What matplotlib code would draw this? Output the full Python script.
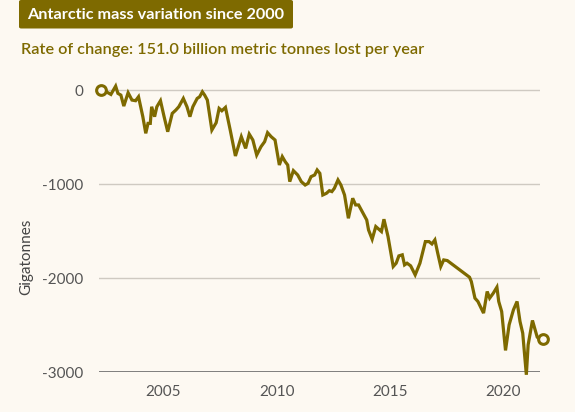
import matplotlib
matplotlib.use("Agg")
import matplotlib.pyplot as plt
from matplotlib.patches import FancyBboxPatch

# Antarctic mass change (Gt)
years = [
    2002.23, 2002.35, 2002.68, 2002.89, 2002.99, 2003.12, 2003.25, 2003.44, 2003.61, 2003.77,
    2003.90, 2004.09, 2004.22, 2004.32, 2004.42, 2004.48, 2004.61, 2004.71, 2004.87, 2005.03,
    2005.19, 2005.39, 2005.55, 2005.68, 2005.88, 2006.04, 2006.17, 2006.30, 2006.49, 2006.60,
    2006.72, 2006.82, 2006.94, 2007.14, 2007.33, 2007.46, 2007.58, 2007.74, 2007.95, 2008.18,
    2008.44, 2008.63, 2008.79, 2008.95, 2009.12, 2009.31, 2009.47, 2009.60, 2009.76, 2009.93,
    2010.12, 2010.25, 2010.38, 2010.49, 2010.58, 2010.74, 2010.93, 2011.09, 2011.26, 2011.39,
    2011.52, 2011.68, 2011.79, 2011.91, 2012.04, 2012.20, 2012.33, 2012.44, 2012.55, 2012.71,
    2012.84, 2013.00, 2013.17, 2013.36, 2013.49, 2013.62, 2013.82, 2013.98, 2014.06, 2014.22,
    2014.38, 2014.55, 2014.63, 2014.74, 2014.92, 2015.15, 2015.28, 2015.40, 2015.55, 2015.65,
    2015.76, 2015.92, 2016.12, 2016.33, 2016.57, 2016.73, 2016.86, 2016.99, 2017.11, 2017.25,
    2017.38, 2017.54, 2018.52, 2018.60, 2018.76, 2018.89, 2019.14, 2019.30, 2019.41, 2019.57,
    2019.73, 2019.81, 2019.94, 2020.11, 2020.27, 2020.46, 2020.62, 2020.75, 2020.87, 2021.03,
    2021.11, 2021.30, 2021.51, 2021.63, 2021.78,
]
mass_gt = [
    0, 0, -46, 42, -35, -53, -170, -28, -106, -113,
    -71, -283, -460, -354, -354, -177, -283, -177, -113, -283,
    -443, -248, -212, -177, -89, -177, -283, -177, -89, -71,
    -18, -53, -106, -425, -347, -195, -220, -184, -425, -701,
    -496, -620, -468, -531, -691, -602, -549, -453, -496, -531,
    -797, -708, -762, -797, -974, -857, -903, -974, -1010, -992,
    -921, -903, -850, -886, -1116, -1098, -1070, -1080, -1045, -956,
    -1010, -1116, -1364, -1151, -1222, -1222, -1311, -1382, -1488, -1587,
    -1452, -1488, -1505, -1374, -1558, -1877, -1842, -1764, -1753, -1860,
    -1842, -1870, -1966, -1842, -1612, -1612, -1637, -1594, -1729, -1877,
    -1807, -1814, -1991, -2037, -2214, -2249, -2373, -2143, -2214, -2161,
    -2097, -2249, -2356, -2770, -2497, -2338, -2249, -2462, -2586, -3029,
    -2710, -2451, -2628, -2657, -2645,
]
y_ticks = [0, -1000, -2000, -3000]
x_ticks = [2005, 2010, 2015, 2020]

BG = "#fdf9f2"
OLIVE = "#7e6a00"

plt.rcParams["font.family"] = ["Lato", "DejaVu Sans"]

fig = plt.figure(figsize=(5.75, 4.12), dpi=100, facecolor=BG)
ax = fig.add_axes([0.172, 0.097, 0.767, 0.698], facecolor=BG)

ax.plot(years, mass_gt, color=OLIVE, linewidth=2.3, clip_on=False,
        solid_joinstyle="miter", zorder=3)
for i in (0, -1):
    ax.plot(years[i], mass_gt[i], "o", ms=7, mfc=BG, mec=OLIVE, mew=2.2,
            clip_on=False, zorder=4)

ax.set_xlim(2002.15, 2021.63)
ax.set_ylim(-3000, 60)
ax.set_yticks(y_ticks)
ax.set_yticklabels([str(v) for v in y_ticks])
ax.set_xticks(x_ticks)

for v in y_ticks[:-1]:
    ax.axhline(v, color="#cfcac2", linewidth=1, zorder=1)
ax.axhline(-3000, color="#6a6a6a", linewidth=1.2, zorder=2)

for s in ax.spines.values():
    s.set_visible(False)
ax.tick_params(axis="both", length=0, labelsize=11, labelcolor="#555555")
ax.tick_params(axis="y", pad=11)
ax.tick_params(axis="x", pad=9)

fig.text(26.5 / 575, 1 - 257 / 412, "Gigatonnes", rotation=90,
         ha="center", va="center", fontsize=11, color="#444444")

# title box
fig.patches.append(FancyBboxPatch((19 / 575, 1 - 28.5 / 412), 274 / 575, 28.5 / 412,
                                  boxstyle="round,pad=0,rounding_size=0.004",
                                  transform=fig.transFigure, facecolor=OLIVE,
                                  edgecolor="none"))
fig.text(156 / 575, 1 - 15 / 412, "Antarctic mass variation since 2000",
         ha="center", va="center", fontsize=11.7, fontweight="bold", color="white")
fig.text(21 / 575, 1 - 50 / 412,
         "Rate of change: 151.0 billion metric tonnes lost per year",
         ha="left", va="center", fontsize=11.7, fontweight="semibold", color=OLIVE)

fig.savefig("out.png", dpi=100, facecolor=BG)
